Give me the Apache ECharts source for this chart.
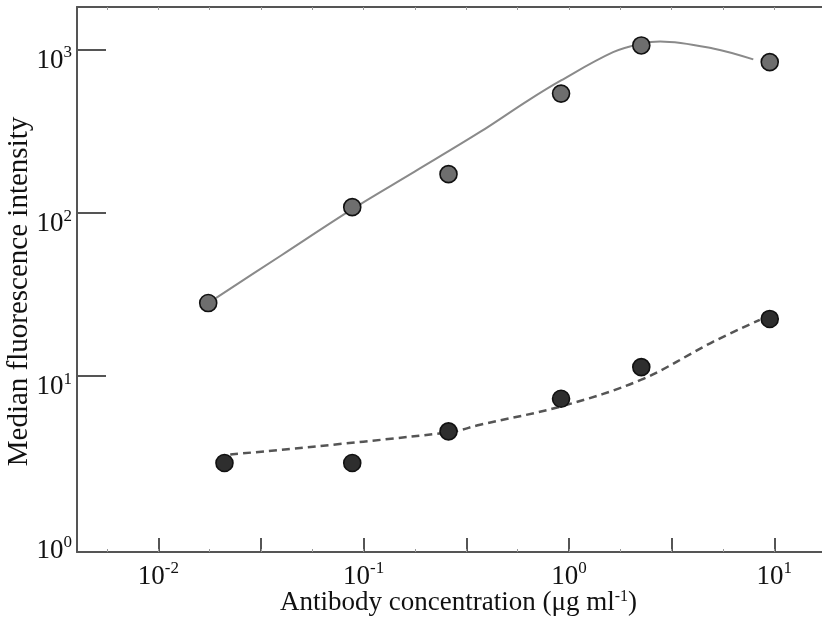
<!DOCTYPE html>
<html>
<head>
<meta charset="utf-8">
<script src="https://cdn.jsdelivr.net/npm/echarts@6/dist/echarts.min.js"></script>
<style>
  html, body { margin: 0; padding: 0; background: #fff; }
  #chart { width: 822px; height: 621px; }
</style>
</head>
<body>
<div id="chart"></div>
<script>
// measured points (ug/ml, MFI)
var grayConc = [0.0175, 0.088, 0.259, 0.915, 2.25, 9.5];
var grayMfi = [27.9, 108, 172, 536, 1058, 836];
var darkConc = [0.021, 0.088, 0.259, 0.915, 2.25, 9.5];
var darkMfi = [2.92, 2.92, 4.56, 7.23, 11.3, 22.3];

// fitted curves
var grayFitConc = [0.0175, 0.0398, 0.088, 0.178, 0.369, 0.631, 0.915, 1.64, 2.25, 2.78, 5.03, 7.9];
var grayFitMfi = [27.9, 54.8, 105, 179, 312, 486, 646, 962, 1084, 1119, 1014, 869];
var darkFitConc = [0.0224, 0.26, 0.369, 0.915, 2.25, 5.05, 8.5];
var darkFitMfi = [3.29, 4.5, 5.01, 6.49, 9.46, 16.2, 22.0];

// tick positions (decade exponents)
var xMajorTicks = [-2, -1.5, -1, -0.5, 0, 0.5, 1];
var xMinorTicks = [-2.25, -2, -1.75, -1.5, -1.25, -1, -0.75, -0.5, -0.25, 0, 0.25, 0.5, 0.75, 1];
var xLabels = [-2, -1, 0, 1];
var yTicks = [1, 2, 3];
var yLabels = [0, 1, 2, 3];

function pairs(xs, ys) {
    return xs.map(function (x, i) { return [Math.log10(x), Math.log10(ys[i])]; });
}

var serif = 'Liberation Serif';
var axisColor = '#555';
var xMin = -2.396, xMax = 1.242;

var powRich = {
    b: { fontFamily: serif, fontSize: 27, color: '#111', lineHeight: 30, verticalAlign: 'bottom' },
    s: { fontFamily: serif, fontSize: 17, color: '#111', lineHeight: 30, verticalAlign: 'top' }
};
function powLabel(v) {
    return '{b|10}{s|' + Math.round(v) + '}';
}

var chart = echarts.init(document.getElementById('chart'));
var option = {
    backgroundColor: '#fff',
    animation: false,
    grid: { left: 77, right: -2, top: 7, bottom: 69, outerBoundsMode: 'none', containLabel: false },
    xAxis: [
        {
            type: 'value', position: 'bottom', min: xMin, max: xMax,
            name: 'Antibody concentration (μg ml{s|-1})',
            nameLocation: 'middle', nameGap: 37, nameMoveOverlap: false,
            nameTextStyle: {
                fontFamily: serif, fontSize: 27, color: '#111',
                rich: { s: { fontFamily: serif, fontSize: 16, color: '#111', verticalAlign: 'top', lineHeight: 28 } },
                lineHeight: 28, padding: [0, 0, 0, 16]
            },
            axisLine: { show: true, onZero: false, lineStyle: { color: axisColor, width: 2 } },
            axisTick: { show: true, inside: true, length: 14, customValues: xMajorTicks, lineStyle: { color: axisColor, width: 2 } },
            axisLabel: { customValues: xLabels, margin: 8, formatter: powLabel, rich: powRich },
            splitLine: { show: false }
        },
        {
            type: 'value', position: 'bottom', min: xMin, max: xMax,
            axisLine: { show: false, onZero: false },
            axisTick: { show: true, inside: true, length: 3, customValues: xMinorTicks, lineStyle: { color: '#999', width: 1 } },
            axisLabel: { show: false },
            splitLine: { show: false }
        },
        {
            type: 'value', position: 'top', min: xMin, max: xMax,
            axisLine: { show: true, onZero: false, lineStyle: { color: axisColor, width: 2 } },
            axisTick: { show: true, inside: true, length: 3, customValues: xMinorTicks, lineStyle: { color: '#999', width: 1 } },
            axisLabel: { show: false },
            splitLine: { show: false }
        }
    ],
    yAxis: [
        {
            type: 'value', position: 'left', min: -0.08, max: 3.26,
            name: 'Median fluorescence intensity',
            nameLocation: 'middle', nameGap: 43, nameMoveOverlap: false,
            nameTextStyle: { fontFamily: serif, fontSize: 29, color: '#111', padding: [0, 24, 0, 0] },
            axisLine: { show: true, onZero: false, lineStyle: { color: axisColor, width: 2 } },
            axisTick: { show: true, inside: true, length: 29, customValues: yTicks, lineStyle: { color: axisColor, width: 2 } },
            axisLabel: { customValues: yLabels, margin: 5, padding: [20, 0, 0, 0], formatter: powLabel, rich: powRich },
            splitLine: { show: false }
        }
    ],
    series: [
        {
            type: 'line', data: pairs(grayFitConc, grayFitMfi), smooth: 0.35,
            showSymbol: false, lineStyle: { color: '#8a8a8a', width: 2 }, z: 1
        },
        {
            type: 'line', data: pairs(darkFitConc, darkFitMfi), smooth: 0.35,
            showSymbol: false, lineStyle: { color: '#555', width: 2.5, type: [8, 5] }, z: 1
        },
        {
            type: 'scatter', data: pairs(grayConc, grayMfi), symbolSize: 17,
            itemStyle: { color: '#6e6e6e', borderColor: '#111', borderWidth: 1.6, opacity: 1 }, z: 3
        },
        {
            type: 'scatter', data: pairs(darkConc, darkMfi), symbolSize: 17,
            itemStyle: { color: '#2e2e2e', borderColor: '#111', borderWidth: 1.6, opacity: 1 }, z: 3
        }
    ]
};
chart.setOption(option);
</script>
</body>
</html>
